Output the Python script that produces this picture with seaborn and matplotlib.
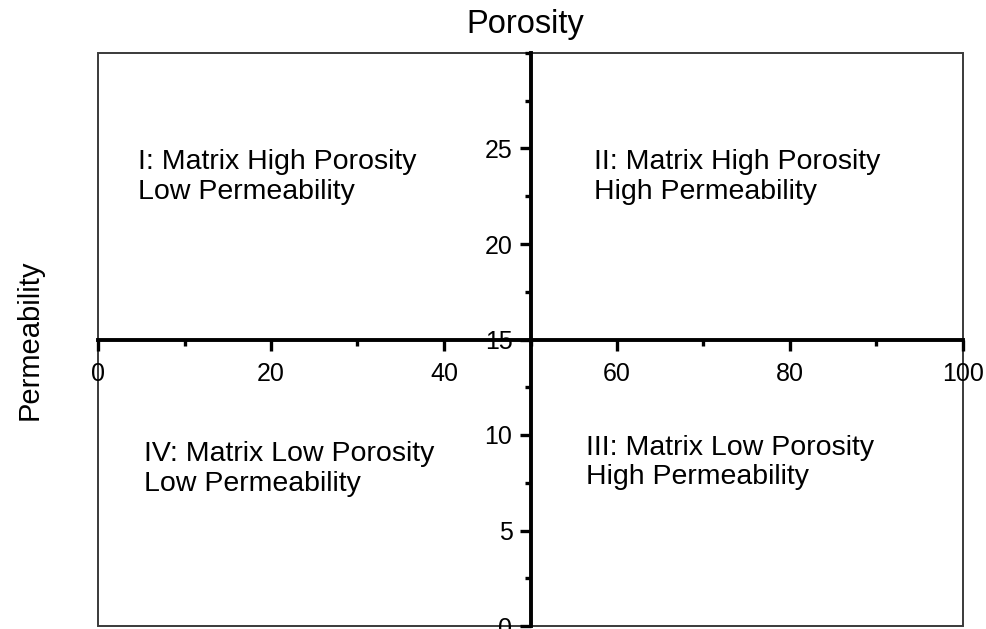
import seaborn as sns
import matplotlib.pyplot as plt
from matplotlib.patches import Rectangle
from matplotlib.ticker import MultipleLocator

# axis ranges and crossing point
x_range = [0, 100]
y_range = [0, 30]
x_cross = 50
y_cross = 15
x_ticks = [0, 20, 40, 60, 80, 100]
y_ticks = [0, 5, 10, 15, 20, 25]

# quadrant labels (x, y, text)
quad_x = [4.6, 57.3, 56.4, 5.3]
quad_y = [23.5, 23.5, 8.55, 8.23]
quad_text = ["I: Matrix High Porosity\nLow Permeability",
             "II: Matrix High Porosity\nHigh Permeability",
             "III: Matrix Low Porosity\nHigh Permeability",
             "IV: Matrix Low Porosity\nLow Permeability"]

sns.set_style("ticks")
plt.rcParams['font.family'] = ['Liberation Sans', 'DejaVu Sans']
plt.rcParams['text.color'] = 'black'

fig = plt.figure(figsize=(9.87, 6.29), dpi=100)
ax = fig.add_axes([98/987, 1-626/629, (963-98)/987, (626-53)/629])

ax.set_xlim(x_range)
ax.set_ylim(y_range)

# axes crossing in the middle
ax.spines['left'].set_position(('data', x_cross))
ax.spines['bottom'].set_position(('data', y_cross))
for s in ['left', 'bottom']:
    ax.spines[s].set_linewidth(2.8)
    ax.spines[s].set_color('black')
for s in ['top', 'right']:
    ax.spines[s].set_visible(False)

# outer frame
ax.add_patch(Rectangle((0, 0), 1, 1, transform=ax.transAxes, fill=False,
                       lw=1.4, ec='#3a3a3a', clip_on=False, zorder=0))

ax.set_xticks(x_ticks)
ax.set_yticks(y_ticks)
ax.xaxis.set_minor_locator(MultipleLocator(10))
ax.yaxis.set_minor_locator(MultipleLocator(2.5))
ax.tick_params(which='major', direction='out', length=8, width=2.4,
               labelsize=18, colors='black', labelcolor='black')
ax.tick_params(which='minor', direction='out', length=4, width=2.4, colors='black')
ax.tick_params(axis='x', which='major', pad=8)
ax.tick_params(axis='y', which='major', pad=5)

for x, y, t in zip(quad_x, quad_y, quad_text):
    ax.text(x, y, t, ha='left', va='center', fontsize=20.5, linespacing=1.18,
            color='black')

fig.text(525/987, 1-25/629, "Porosity", ha='center', va='center', fontsize=23.5,
         color='black')
fig.text(30/987, 1-340/629, "Permeability", ha='center', va='center',
         rotation=90, fontsize=21, color='black')

fig.savefig("out.png", dpi=100)
